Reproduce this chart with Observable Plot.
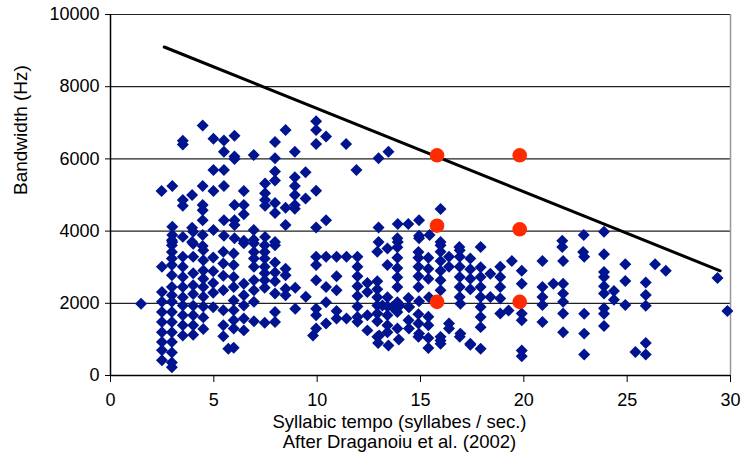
<!DOCTYPE html>
<html>
<head>
<meta charset="utf-8">
<script src="https://cdn.jsdelivr.net/npm/d3@7"></script>
<script src="https://cdn.jsdelivr.net/npm/@observablehq/plot@0.6"></script>
<style>
  html, body { margin: 0; padding: 0; background: #fff; }
  #chart svg { display: block; }
</style>
</head>
<body>
<div id="chart"></div>
<script>
// Blue diamonds: syllabic tempo (syllables/sec) and bandwidth (Hz)
const songTempo = [
  4.46,3.5,3.5,4.98,5.49,6.0,5.49,6.0,6.0,6.93,4.98,5.49,2.47,2.99,4.46,4.98,5.49,6.45,3.95,3.5,3.5,4.46,4.46,4.46,6.0,6.45,6.45,5.49,6.0,6.0,7.48,7.48,7.48,7.48,2.99,2.99,2.99,3.5,3.95,3.95,4.46,4.46,4.98,5.49,6.0,6.45,6.93,6.93,7.48,
  9.95,9.95,10.43,9.95,8.47,7.96,8.92,7.96,11.4,13.45,12.97,11.9,7.96,7.96,9.44,8.92,8.92,9.95,9.44,8.92,7.96,8.92,8.47,8.92,7.96,8.47,9.95,10.43,12.97,13.9,14.41,14.93,14.93,12.97,13.9,7.96,
  15.97,15.44,14.93,15.97,16.88,17.91,21.86,22.9,21.86,
  23.88,22.92,23.88,24.91,26.35,26.87,29.37,23.88,23.88,23.88,23.88,24.36,24.36,24.91,24.91,25.9,25.9,25.9,22.92,23.88,23.88,23.88,22.92,22.92,25.9,25.4,25.9,29.85,
  1.48,
  2.49,2.49,2.49,2.49,2.49,2.49,2.49,2.49,2.49,
  2.97,2.97,2.97,2.97,2.97,2.97,2.97,2.97,2.97,2.97,2.97,2.97,2.97,2.97,2.97,2.97,
  3.5,3.5,3.5,3.5,3.5,3.5,3.5,3.5,3.5,
  4.0,4.0,4.0,4.0,4.0,4.0,4.0,4.0,4.0,4.0,
  4.49,4.49,4.49,4.49,4.49,4.49,4.49,4.49,4.49,
  4.97,4.97,4.97,4.97,4.97,
  5.46,5.46,5.46,5.46,5.46,5.46,5.46,5.7,
  5.96,5.96,5.96,5.96,5.96,5.96,5.96,5.96,5.96,
  6.45,6.45,6.45,6.45,6.45,6.45,
  6.94,6.94,6.94,6.94,6.94,6.94,6.94,6.94,
  7.46,7.46,7.46,7.46,7.46,7.46,7.46,7.46,
  7.96,7.96,7.96,7.96,7.96,7.96,7.96,
  8.47,8.47,8.47,8.47,
  8.94,8.94,
  9.45,9.8,
  9.95,9.95,9.95,9.95,9.95,9.95,
  10.43,10.43,10.43,10.43,
  10.94,10.94,10.94,10.94,10.94,
  11.42,11.42,
  11.95,11.95,11.95,11.95,11.95,11.95,11.95,11.95,
  12.43,12.43,12.43,12.43,
  12.91,12.91,12.91,12.91,12.91,12.91,12.91,12.91,12.95,
  13.4,13.4,13.4,13.4,13.4,13.4,13.4,13.45,
  13.88,13.88,13.88,13.88,13.88,13.88,13.88,13.88,13.88,13.95,
  14.42,14.42,14.44,14.44,
  14.9,14.9,14.9,14.9,14.9,14.9,14.9,14.9,14.93,14.93,
  15.38,15.38,15.38,15.38,15.38,15.38,15.38,15.41,
  15.97,15.97,15.97,15.97,15.97,15.97,15.97,15.97,15.97,
  16.38,16.38,16.38,16.38,
  16.9,16.9,16.9,16.9,16.9,16.9,16.9,16.93,16.93,
  17.41,17.41,17.41,17.41,17.41,17.41,
  17.91,17.91,17.91,17.91,17.91,17.91,17.91,17.91,
  18.38,18.38,
  18.86,18.86,18.86,18.86,18.86,
  19.26,19.42,
  19.9,19.9,19.9,19.9,19.9,19.9,
  20.9,20.9,20.9,20.9,20.9,
  21.43,
  21.9,21.9,21.9,21.9,21.9,21.9,
  22.87,
  13.16,13.64,14.0,14.44,13.0
];
const songBandwidth = [
  6925,6400,6500,6555,6510,6640,6200,6065,6000,6110,5695,5695,5110,5250,5250,5110,5250,5110,5000,4860,4700,4720,4580,4300,4720,4720,4470,4300,4300,4170,5320,5050,4860,4700,4120,3890,3700,3840,4090,3700,3890,3590,4030,3870,3800,3730,4030,3760,3840,
  7040,6800,6620,6415,6800,6465,6200,6020,6415,6200,6020,5695,5650,5400,5630,5490,5250,5120,4900,5000,4780,4720,4650,4620,4500,4170,4100,4300,4100,4195,4195,4300,3870,3700,3700,3700,
  4610,3890,3800,3700,3560,3560,3730,3890,3560,
  3980,3290,3360,3080,3080,2900,2700,2870,2730,2470,2270,2340,2100,2620,1950,2575,2230,1930,1710,1860,1710,1370,1160,580,900,650,580,1790,
  1990,
  3010,2310,2040,1760,1480,1200,925,700,420,
  3750,3610,3420,3240,3060,2780,2450,2220,2040,1760,1480,1200,925,640,360,230,
  3290,3010,2730,2450,2170,1940,1670,1390,1110,
  3980,3650,3290,2830,2500,2260,1930,1670,1390,1130,
  3470,3190,2910,2680,2450,2180,1910,1610,1290,
  3270,2890,2560,2290,1890,
  3430,3100,2760,2360,1810,1390,1090,740,
  3380,3060,2730,2450,2080,1810,1530,1300,770,
  3660,2540,2220,1940,1580,1250,
  3660,3420,3240,3010,2640,2360,2040,1500,
  3610,3420,3240,3010,2830,2640,2430,1460,
  3610,3130,2850,2610,2270,1760,1480,
  2960,2780,2400,2220,
  2430,1850,
  2180,1110,
  3290,3060,2640,1850,1670,1300,
  3290,2450,2030,1440,
  3290,2750,2360,1790,1580,
  3290,1580,
  3290,3010,2750,2470,2200,1910,1620,1490,
  2560,2310,1670,1250,
  3430,2610,2390,2170,1940,1720,1500,1070,900,
  3520,3060,2170,1910,1670,1390,1200,830,
  3800,3550,3260,2980,2720,2450,2030,1760,1300,1000,
  2150,1530,1900,1300,
  3420,3260,3010,2750,2450,1700,1440,1070,1160,2060,
  3260,2960,2680,1630,1390,1040,760,2170,
  3610,3430,3170,2900,2640,2360,1070,880,970,
  3290,3010,1440,1300,
  3470,3290,3010,2730,2450,2175,1070,1990,1160,
  3240,2940,2680,2390,850,880,
  3000,2730,2450,2175,1900,1620,1340,740,
  2820,2175,
  3010,2730,2450,2130,1720,
  1800,3170,
  2900,2540,1720,1530,690,530,
  3170,2450,2175,1950,1480,
  2540,
  3170,2540,2270,2040,1720,1200,
  3420,
  1940,1900,1940,1900,1110
];

// Red reference points
const refTempo = [15.8, 19.8, 15.8, 19.8, 15.8, 19.8];
const refBandwidth = [6100, 6100, 4150, 4050, 2040, 2040];

// Black performance-limit line
const limitTempo = [2.6, 29.5];
const limitBandwidth = [9100, 2900];

// Axes
const xTicks = [0, 5, 10, 15, 20, 25, 30];
const yTicks = [0, 2000, 4000, 6000, 8000, 10000];
const yGrid = [2000, 4000, 6000, 8000, 10000];
const xLabel = "Syllabic tempo (syllabes / sec.)";
const yLabel = "Bandwidth (Hz)";
const caption = "After Draganoiu et al. (2002)";

const songs = songTempo.map((t, i) => ({tempo: t, bw: songBandwidth[i]}));
const refs = refTempo.map((t, i) => ({tempo: t, bw: refBandwidth[i]}));
const limit = limitTempo.map((t, i) => ({tempo: t, bw: limitBandwidth[i]}));

const chart = Plot.plot({
  width: 741,
  height: 458,
  marginLeft: 110,
  marginRight: 11,
  marginTop: 14,
  marginBottom: 83,
  style: {fontFamily: "'Liberation Sans', Arial, sans-serif", fontSize: "18px", color: "#000", background: "#fff"},
  x: {domain: [0, 30]},
  y: {domain: [0, 10000]},
  marks: [
    Plot.ruleY(yGrid, {stroke: "#222", strokeWidth: 1.2}),
    Plot.ruleX([30], {stroke: "#999", strokeWidth: 1.5}),
    Plot.axisX({ticks: xTicks, tickSize: 7, tickPadding: 11, label: null, stroke: "#000"}),
    Plot.axisY({ticks: yTicks, tickSize: 5, tickPadding: 6, label: null, tickFormat: d => String(d), stroke: "#000"}),
    Plot.dot(songs, {x: "tempo", y: "bw", symbol: "diamond2", r: 5.4, fill: "#001490"}),
    Plot.line(limit, {x: "tempo", y: "bw", stroke: "#000", strokeWidth: 3}),
    Plot.dot(refs, {x: "tempo", y: "bw", r: 7.3, fill: "#ff2b00"}),
    Plot.ruleX([0], {stroke: "#000", strokeWidth: 1.5}),
    Plot.ruleY([0], {stroke: "#000", strokeWidth: 1.5}),
    Plot.text([xLabel], {frameAnchor: "bottom", dx: -21, dy: 52, text: d => d, fill: "#000", fontSize: 18.5}),
    Plot.text([caption], {frameAnchor: "bottom", dx: -21, dy: 72, text: d => d, fill: "#000", fontSize: 18.5}),
    Plot.text([yLabel], {frameAnchor: "left", dx: -90, rotate: -90, text: d => d, fill: "#000", fontSize: 19})
  ]
});
document.getElementById("chart").appendChild(chart);
</script>
</body>
</html>
